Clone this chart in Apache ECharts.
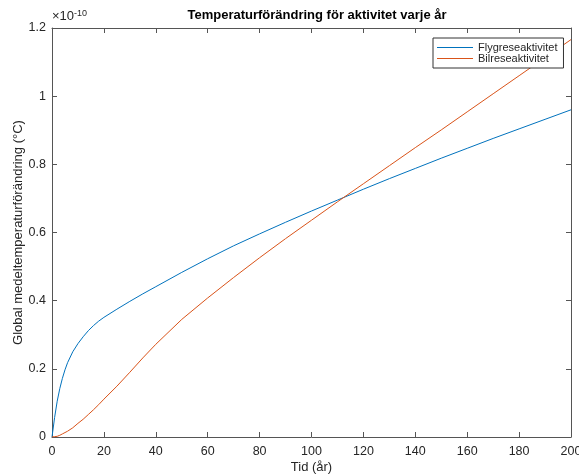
<!DOCTYPE html>
<html>
<head>
<meta charset="utf-8">
<script src="https://cdn.jsdelivr.net/npm/echarts@6/dist/echarts.min.js"></script>
<style>
  html, body { margin: 0; padding: 0; background: #fff; }
  #chart { width: 579px; height: 475px; }
</style>
</head>
<body>
<div id="chart"></div>
<script>
// tid (år)
const years = [0, 1, 2, 3, 4, 5, 6, 8, 10, 12, 14, 16, 18, 20, 25, 30, 35, 40, 50, 60, 70, 80, 90, 100, 110, 120, 130, 140, 150, 160, 170, 180, 190, 200]
// temperaturförändring, i enheter av 1e-10 °C
const flyg = [0, 0.057, 0.105, 0.142, 0.172, 0.197, 0.218, 0.25, 0.274, 0.294, 0.312, 0.327, 0.34, 0.351, 0.375, 0.398, 0.42, 0.441, 0.483, 0.523, 0.561, 0.596, 0.630, 0.663, 0.695, 0.727, 0.758, 0.788, 0.818, 0.847, 0.876, 0.904, 0.932, 0.960]
const bil = [0, 0.001, 0.002, 0.005, 0.009, 0.013, 0.017, 0.027, 0.04, 0.052, 0.066, 0.08, 0.095, 0.111, 0.149, 0.19, 0.232, 0.272, 0.345, 0.408, 0.468, 0.526, 0.582, 0.636, 0.690, 0.743, 0.796, 0.849, 0.901, 0.954, 1.007, 1.06, 1.113, 1.166]
const seriesNames = ['Flygreseaktivitet', 'Bilreseaktivitet']
const exponent = '-10'

const axisCol = '#555555'
const textCol = '#262626'
const font = 'Liberation Sans, Arial, sans-serif'

function pairs(ys) {
  return years.map((x, i) => [x, ys[i]])
}

const chart = echarts.init(document.getElementById('chart'))

const baseX = {
  type: 'value',
  min: 0,
  max: 200,
  interval: 20,
  splitLine: { show: false },
  axisLine: { show: true, onZero: false, lineStyle: { color: axisCol, width: 1 } },
  axisTick: { show: true, inside: true, length: 5, lineStyle: { color: axisCol } }
}
const baseY = {
  type: 'value',
  min: 0,
  max: 1.2,
  interval: 0.2,
  splitLine: { show: false },
  axisLine: { show: true, onZero: false, lineStyle: { color: axisCol, width: 1 } },
  axisTick: { show: true, inside: true, length: 5, lineStyle: { color: axisCol } }
}

chart.setOption({
  animation: false,
  textStyle: { fontFamily: font },
  title: {
    text: 'Temperaturförändring för aktivitet varje år',
    left: 312,
    textAlign: 'center',
    top: 4,
    textStyle: { fontSize: 13, fontWeight: 'bold', color: '#000', fontFamily: font }
  },
  grid: { left: 52, right: 8, top: 28, bottom: 38, containLabel: false, outerBoundsMode: 'none' },
  legend: {
    data: seriesNames,
    orient: 'vertical',
    left: 433,
    top: 38,
    padding: [4, 6, 4, 4],
    itemGap: 0,
    itemWidth: 36,
    itemHeight: 1,
    icon: 'rect',
    borderColor: '#333',
    borderWidth: 1,
    borderRadius: 0,
    backgroundColor: '#fff',
    textStyle: { fontSize: 11, color: textCol, fontFamily: font, padding: [0, 0, 0, 0], lineHeight: 11 }
  },
  xAxis: [
    Object.assign({}, baseX, {
      position: 'bottom',
      name: 'Tid (år)',
      nameLocation: 'middle',
      nameGap: 24,
      nameMoveOverlap: false,
      nameTextStyle: { fontSize: 13, color: textCol },
      axisLabel: { fontSize: 12.5, color: textCol, margin: 8 }
    }),
    Object.assign({}, baseX, { position: 'top', axisLabel: { show: false } })
  ],
  yAxis: [
    Object.assign({}, baseY, {
      position: 'left',
      name: 'Global medeltemperaturförändring (°C)',
      nameLocation: 'middle',
      nameGap: 27,
      nameMoveOverlap: false,
      nameTextStyle: { fontSize: 13, color: textCol },
      axisLabel: { fontSize: 12.5, color: textCol, margin: 6 }
    }),
    Object.assign({}, baseY, { position: 'right', axisLabel: { show: false } })
  ],
  graphic: [{
    type: 'text',
    left: 52,
    top: 9,
    style: {
      text: '×10{e|' + exponent + '}',
      rich: { e: { fontSize: 9, verticalAlign: 'top', padding: [0, 0, 6, 0] } },
      fontSize: 13,
      fill: textCol,
      fontFamily: font
    }
  }],
  series: [
    {
      name: seriesNames[0],
      type: 'line',
      data: pairs(flyg),
      showSymbol: false,
      symbol: 'none',
      smooth: false,
      lineStyle: { color: '#0072BD', width: 1 },
      itemStyle: { color: '#0072BD' }
    },
    {
      name: seriesNames[1],
      type: 'line',
      data: pairs(bil),
      showSymbol: false,
      symbol: 'none',
      smooth: false,
      lineStyle: { color: '#D95319', width: 1 },
      itemStyle: { color: '#D95319' }
    }
  ]
})
</script>
</body>
</html>
